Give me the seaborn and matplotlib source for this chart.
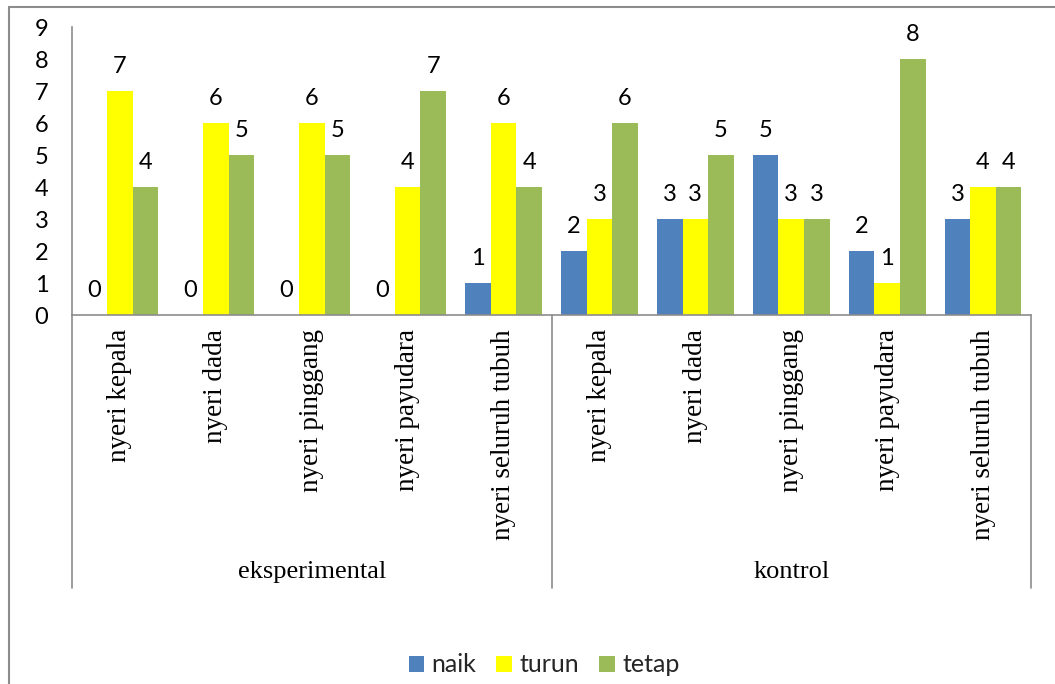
import matplotlib
matplotlib.use("Agg")
import matplotlib.pyplot as plt
import matplotlib.transforms as mtransforms
from matplotlib.lines import Line2D
from matplotlib.patches import Patch
import seaborn as sns
import pandas as pd

groups = ["eksperimental", "kontrol"]
categories = ["nyeri kepala", "nyeri dada", "nyeri pinggang", "nyeri payudara", "nyeri seluruh tubuh"]
series = ["naik", "turun", "tetap"]
naik = [0, 0, 0, 0, 1, 2, 3, 5, 2, 3]
turun = [7, 6, 6, 4, 6, 3, 3, 3, 1, 4]
tetap = [4, 5, 5, 7, 4, 6, 5, 3, 8, 4]
colors = ["#4F81BD", "#FFFF00", "#9BBB59"]
yticks = list(range(0, 10))

keys = [f"{g}|{c}" for g in groups for c in categories]
rows = []
for s, vals in zip(series, [naik, turun, tetap]):
    for k, v in zip(keys, vals):
        rows.append({"key": k, "status": s, "value": v})
df = pd.DataFrame(rows)

sns.set_theme(style="white")
plt.rcParams["font.family"] = ["Lato", "DejaVu Sans"]

W, H = 1055, 684
fig = plt.figure(figsize=(W / 100, H / 100), dpi=100)
left, right, top, bottom = 72, 1031, 27, 315
ax = fig.add_axes([left / W, 1 - bottom / H, (right - left) / W, (bottom - top) / H])

sns.barplot(data=df, x="key", y="value", hue="status", order=keys, hue_order=series,
            palette=colors, saturation=1, width=0.8, linewidth=0, edgecolor="none",
            errorbar=None, ax=ax, legend=False)

ax.set_xlim(-0.5, len(keys) - 0.5)
ax.set_ylim(0, 9)
ax.set_yticks(yticks)
ax.set_yticklabels([str(t) for t in yticks], fontsize=17, color="#000000")
ax.set_xticks(range(len(keys)))
ax.set_xticklabels([k.split("|")[1] for k in keys], rotation=90, va="top", ha="center",
                   fontsize=19.5, family="Liberation Serif", color="#000000")
ax.tick_params(axis="y", length=0, pad=17)
ax.tick_params(axis="x", length=0, pad=10)
ax.set_xlabel("")
ax.set_ylabel("")
for sp in ["top", "right"]:
    ax.spines[sp].set_visible(False)
for sp in ["left", "bottom"]:
    ax.spines[sp].set_color("#8c8c8c")
    ax.spines[sp].set_linewidth(1.2)

for cont in ax.containers:
    ax.bar_label(cont, fmt="%d", padding=10, fontsize=17, color="#000000")

trans = mtransforms.blended_transform_factory(ax.transData, ax.transAxes)
ybot = -(588 - bottom) / (bottom - top)
for xs in [-0.5, 4.5, 9.5]:
    ax.add_line(Line2D([xs, xs], [0, ybot], transform=trans, color="#8c8c8c", lw=1.2, clip_on=False))

ylab = -(572 - bottom) / (bottom - top)
n = len(categories)
for i, g in enumerate(groups):
    ax.text(i * n + (n - 1) / 2, ylab, g, transform=trans, ha="center", va="center",
            fontsize=19, family="Liberation Serif", color="#000000")

handles = [Patch(facecolor=c, edgecolor="none", label=s) for s, c in zip(series, colors)]
fig.legend(handles=handles, loc="center", bbox_to_anchor=(544 / W, 1 - 665 / H), ncol=3,
           frameon=False, fontsize=18, handlelength=0.62, handleheight=0.62,
           handletextpad=0.3, columnspacing=0.8)

fx = 9 / W
fy = 1 - 7 / H
fig.add_artist(Line2D([fx, fx], [0, fy], transform=fig.transFigure, color="#8c8c8c", lw=1.5))
fig.add_artist(Line2D([fx, 1], [fy, fy], transform=fig.transFigure, color="#8c8c8c", lw=1.5))

fig.savefig("out.png", dpi=100, facecolor="white")
